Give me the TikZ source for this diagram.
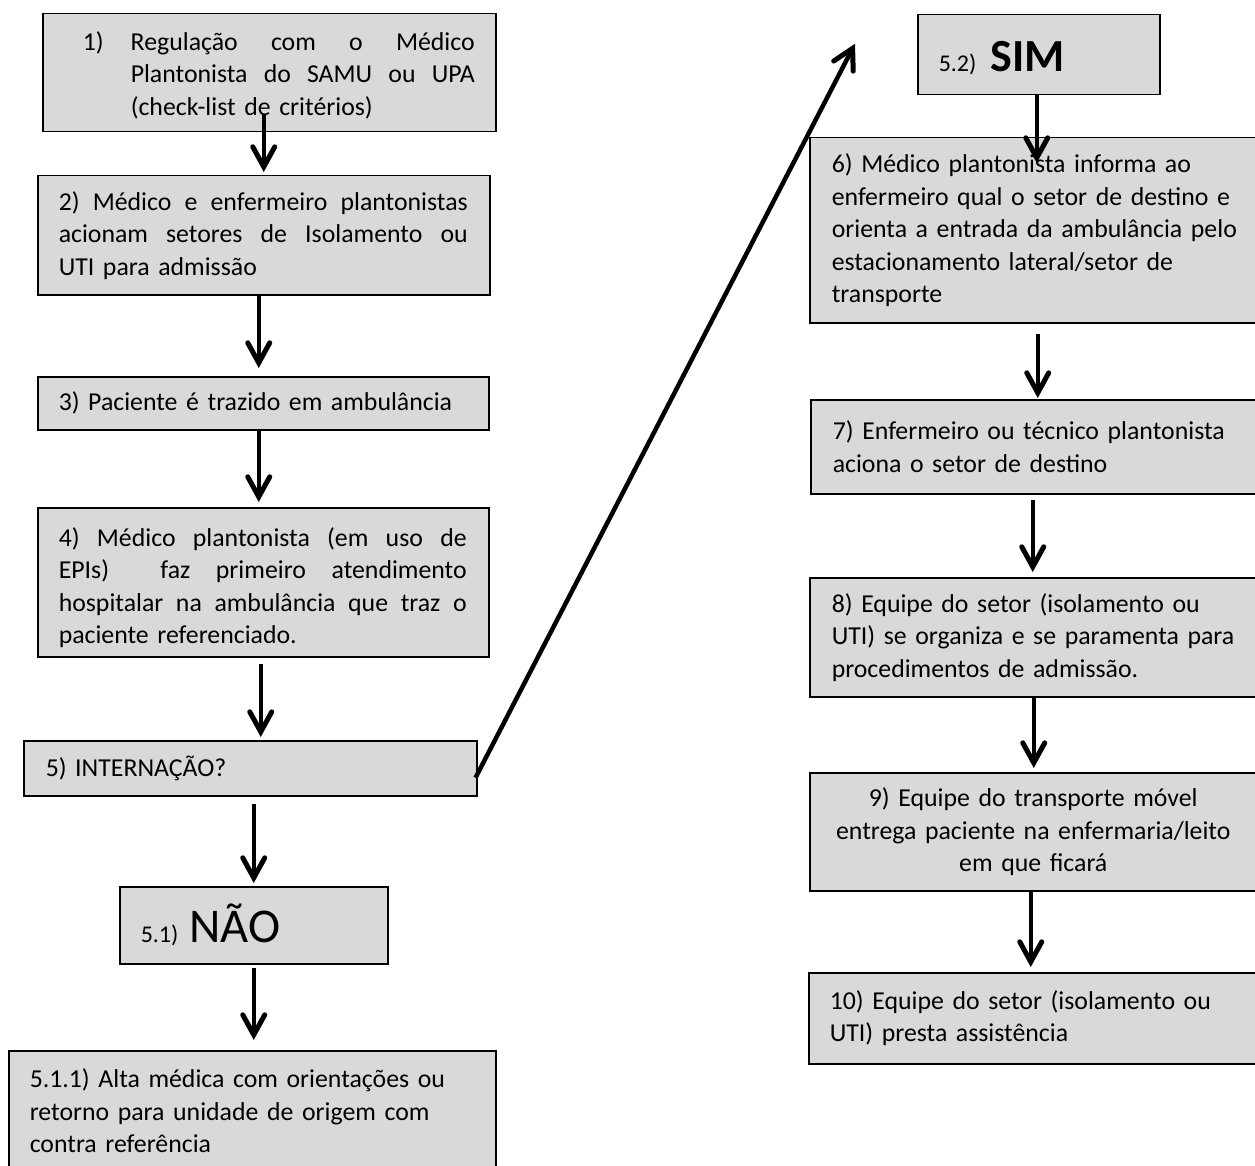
\documentclass[tikz,border=0pt]{standalone}
\usepackage{fontspec}
\setmainfont{Carlito}
\usetikzlibrary{arrows.meta,calc}
\definecolor{boxgray}{HTML}{D9D9D9}
\newcommand\fsnorm{\fontsize{25.8pt}{32.5pt}\selectfont}
\newcommand\fssmall{\fontsize{24pt}{28pt}\selectfont}
\newcommand\fsbig{\fontsize{46pt}{52pt}\selectfont}
\newcommand\fsbigger{\fontsize{48.5pt}{54pt}\selectfont}
\newcommand\lne[1]{\mbox{#1}}
\newcommand\jl[2]{\mbox{\hbox to #1{#2}}}
\newcommand\gap{\ \hfill}
\begin{document}
\begin{tikzpicture}[x=1pt,y=-1pt,
  box/.style={draw=black, line width=1.5pt, fill=boxgray, anchor=north west,
    inner xsep=21pt, inner ysep=0pt, align=left, font=\fsnorm},
  arr/.style={line width=4.5pt, -{Straight Barb[length=20pt,width=22pt,line width=5pt,line cap=round,line join=miter]}}
]
\useasboundingbox (0,0) rectangle (1255,1166);
\clip (0,0) rectangle (1255,1166);

% left column
\node[box, text width=411pt, minimum height=118pt] (b1) at (42,13)
 {\mbox{\rule{0pt}{24pt}\hspace*{19pt}\makebox[48pt][l]{1)}\hbox to 344pt{Regulação\gap com\gap o\gap Médico}}\\
  \mbox{\hspace*{67pt}\hbox to 344pt{Plantonista\gap do\gap SAMU\gap ou\gap UPA}}\\
  \mbox{\hspace*{67pt}(check-list de critérios)}};
\node[box, text width=410pt, minimum height=119pt] (b2) at (37,175)
 {\jl{409pt}{2)\gap Médico\gap e\gap enfermeiro\gap plantonistas}\\
  \jl{409pt}{acionam\gap setores\gap de\gap Isolamento\gap ou}\\
  \lne{UTI para admissão}};
\node[box, text width=409pt, minimum height=53pt] (b3) at (37,376)
 {\lne{3) Paciente é trazido em ambulância}};
\node[box, text width=409pt, minimum height=149pt] (b4) at (37,507)
 {\jl{408pt}{\rule{0pt}{30pt}4)\gap Médico\gap plantonista\gap (em\gap uso\gap de}\\
  \jl{408pt}{EPIs)\gap\gap faz\gap primeiro\gap atendimento}\\
  \jl{408pt}{hospitalar\gap na\gap ambulância\gap que\gap traz\gap o}\\
  \lne{paciente referenciado.}};
\node[box, inner xsep=22pt, text width=409pt, minimum height=55pt] (b5) at (23,740)
 {\lne{5) INTERNAÇÃO?}};
\node[box, text width=226pt, minimum height=77pt, text height=38pt, text depth=3pt] (nao) at (119,886)
 {\mbox{{\fssmall 5.1)}\hspace{11pt}{\fsbigger NÃO}}};
\node[box, text width=445pt, minimum height=120pt] (b511) at (8,1050)
 {\lne{5.1.1) Alta médica com orientações ou}\\
  \lne{retorno para unidade de origem com}\\
  \lne{contra referência}};

% right column
\node[box, text width=200pt, minimum height=80pt, text height=37pt, text depth=3pt] (sim) at (917,14)
 {\mbox{{\fssmall 5.2)}\hspace{14pt}{\fsbig\bfseries SIM}}};
\node[box, inner xsep=22pt, text width=403pt, minimum height=185pt] (b6) at (809,137)
 {\lne{6) Médico plantonista informa ao}\\
  \lne{enfermeiro qual o setor de destino e}\\
  \lne{orienta a entrada da ambulância pelo}\\
  \lne{estacionamento lateral/setor de}\\
  \lne{transporte}};
\node[box, inner xsep=22pt, text width=402pt, minimum height=94pt] (b7) at (810,399)
 {\lne{7) Enfermeiro ou técnico plantonista}\\
  \lne{aciona o setor de destino}};
\node[box, inner xsep=22pt, text width=403pt, minimum height=119pt] (b8) at (809,577)
 {\lne{8) Equipe do setor (isolamento ou}\\
  \lne{UTI) se organiza e se paramenta para}\\
  \lne{procedimentos de admissão.}};
\node[box, inner xsep=22pt, text width=403pt, minimum height=118pt, align=center] (b9) at (809,772)
 {\lne{9) Equipe do transporte móvel}\\
  \lne{entrega paciente na enfermaria/leito}\\
  \lne{em que ficará}};
\node[box, inner xsep=21pt, text width=406pt, minimum height=91pt] (b10) at (808,972)
 {\lne{10) Equipe do setor (isolamento ou}\\
  \lne{UTI) presta assistência}};

% connectors
\draw[arr] ($(b1.south)+(-5.5,-18)$) -- ($(b2.north)+(0,-3)$);
\draw[arr] ($(b2.south)+(-5,0)$) -- ($(b3.north)+(-4.5,-8)$);
\draw[arr] ($(b3.south)+(-4.5,0)$) -- ($(b4.north)+(-4.5,-5)$);
\draw[arr] ($(b4.south)+(-2.5,6)$) -- ($(b5.north)+(10.5,-3)$);
\draw[arr] ($(b5.south)+(3.5,7)$) -- ($(nao.north)+(0,-3)$);
\draw[arr] ($(nao.south)+(0,3)$) -- ($(b511.north)+(1.5,-10)$);
\draw[arr] ($(b5.east)+(-2,9.5)$) -- ($(sim.west)+(-62,-11)$);
\draw[arr] ($(sim.south)+(-2,0)$) -- ($(b6.north)+(3.5,26)$);
\draw[arr] ($(b6.south)+(4.5,10)$) -- ($(b7.north)+(4,-1)$);
\draw[arr] ($(b7.south)+(-1,5)$) -- ($(b8.north)+(-0.5,-5)$);
\draw[arr] ($(b8.south)+(0.5,0)$) -- ($(b9.north)+(0.5,-4)$);
\draw[arr] ($(b9.south)+(-2.5,0)$) -- ($(b10.north)+(-2,-5)$);
\end{tikzpicture}
\end{document}
